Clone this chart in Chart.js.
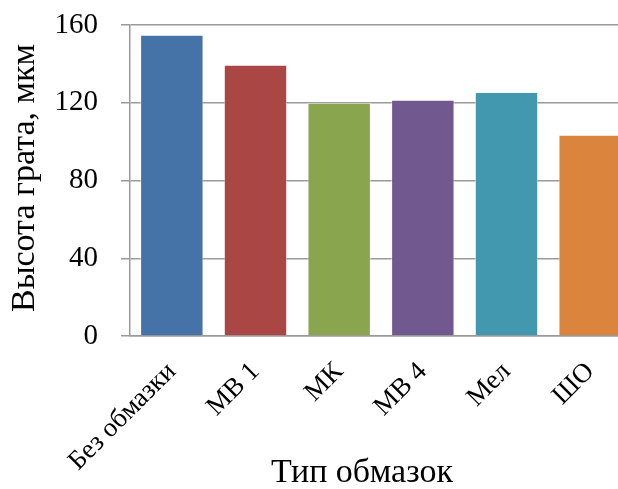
<!DOCTYPE html>
<html>
<head>
<meta charset="utf-8">
<script src="https://cdn.jsdelivr.net/npm/chart.js@4/dist/chart.umd.min.js"></script>
<style>
  html, body { margin: 0; padding: 0; background: #fff; overflow: hidden; }
  #wrap { width: 632px; height: 489px; position: relative; }
</style>
</head>
<body>
<div id="wrap"><canvas id="c"></canvas></div>
<script>
// Coating types and burr height (µm)
const categories = ['Без обмазки', 'МВ 1', 'МК', 'МВ 4', 'Мел', 'ШО'];
const burrHeight = [155, 139.5, 120, 121.5, 125.5, 103.5];
const barColors = ['#4572A7', '#AA4643', '#89A54E', '#71588F', '#4198AF', '#DB843D'];
const yTicks = [0, 40, 80, 120, 160];
const xTitle = 'Тип обмазок';
const yTitle = 'Высота грата, мкм';

const serif = "'Liberation Serif', 'Times New Roman', serif";

// Axis titles, drawn after the chart so they can sit where the layout wants them
const axisTitles = {
  id: 'axisTitles',
  afterDraw(chart) {
    const ctx = chart.ctx;
    ctx.save();
    ctx.fillStyle = '#000';
    ctx.font = '34px ' + serif;
    ctx.textAlign = 'center';
    ctx.textBaseline = 'alphabetic';
    ctx.fillText(xTitle, 362, 482);
    ctx.translate(34, 178);
    ctx.rotate(-Math.PI / 2);
    ctx.fillText(yTitle, 0, 0);
    ctx.restore();
  }
};

new Chart(document.getElementById('c'), {
  type: 'bar',
  data: {
    labels: categories,
    datasets: [{
      data: burrHeight,
      backgroundColor: barColors,
      borderColor: 'rgba(255,255,255,0.55)',
      borderWidth: 1,
      categoryPercentage: 1,
      barPercentage: 0.758
    }]
  },
  options: {
    responsive: true,
    maintainAspectRatio: false,
    animation: false,
    devicePixelRatio: 1,
    layout: { padding: { top: 25, left: 0, right: 0, bottom: 0 } },
    plugins: { legend: { display: false }, tooltip: { enabled: false } },
    scales: {
      x: {
        grid: { display: false },
        border: { display: true, color: '#9a9a9a', width: 1.5 },
        ticks: {
          color: '#000',
          font: { family: serif, size: 27 },
          minRotation: 45,
          maxRotation: 45,
          padding: 12
        },
        afterFit(scale) {
          scale.height = 153;
          scale.paddingLeft = 0;
          scale.paddingRight = 0;
        }
      },
      y: {
        min: 0,
        max: 160,
        afterBuildTicks: (axis) => { axis.ticks = yTicks.map(v => ({ value: v })); },
        grid: { color: '#9a9a9a', lineWidth: 1.5, tickLength: 9, drawTicks: true },
        border: { display: true, color: '#9a9a9a', width: 1.5 },
        ticks: {
          color: '#000',
          font: { family: serif, size: 29 },
          padding: 23
        },
        afterFit(scale) {
          scale.width = 130;
          scale.paddingTop = 0;
          scale.paddingBottom = 0;
        }
      }
    }
  },
  plugins: [axisTitles]
});
</script>
</body>
</html>
